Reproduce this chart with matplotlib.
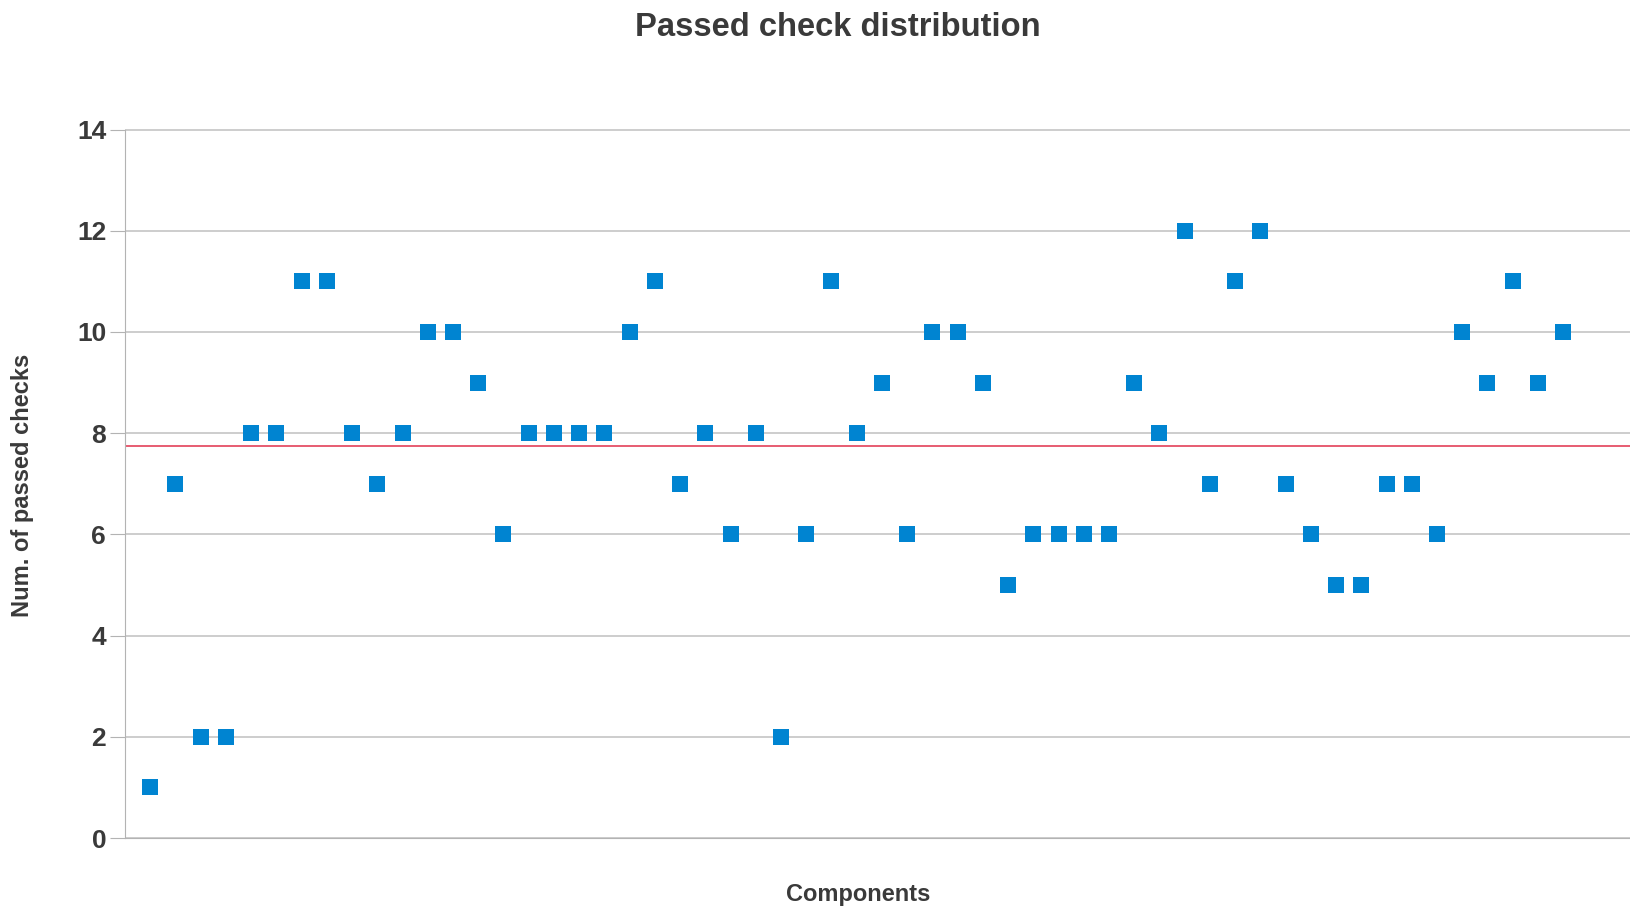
import matplotlib
matplotlib.use("Agg")
import matplotlib.pyplot as plt
import numpy as np

plt.rcParams['font.family'] = ['Liberation Sans', 'DejaVu Sans']

# passed checks per component, in order
passed = [1, 7, 2, 2, 8, 8, 11, 11, 8, 7,
          8, 10, 10, 9, 6, 8, 8, 8, 8, 10,
          11, 7, 8, 6, 8, 2, 6, 11, 8, 9,
          6, 10, 10, 9, 5, 6, 6, 6, 6, 9,
          8, 12, 7, 11, 12, 7, 6, 5, 5, 7,
          7, 6, 10, 9, 11, 9, 10]
components = np.arange(1, len(passed) + 1)
y_ticks = [0, 2, 4, 6, 8, 10, 12, 14]

txt = '#3a3a3a'
fig = plt.figure(figsize=(16.3, 9.08), dpi=100)
ax = fig.add_axes([125/1630, 1 - 838/908, 1 - 125/1630, (838 - 129.5)/908])

ax.scatter(components, passed, marker='s', s=16**2 * 0.56, color='#0084d1',
           linewidths=0, zorder=3)
ax.axhline(np.mean(passed), color='#e0304a', lw=1.1, zorder=2)

ax.set_xlim(0, 59.65)
ax.set_ylim(0, 14)
ax.set_yticks(y_ticks)
ax.set_xticks([])
ax.grid(axis='y', color='#c0c0c0', lw=1.1, zorder=0)
for s in ['top', 'right']:
    ax.spines[s].set_visible(False)
ax.spines['left'].set_color('#b3b3b3')
ax.spines['bottom'].set_color('#b3b3b3')
ax.tick_params(axis='y', length=11, color='#b3b3b3', labelsize=19,
               labelcolor=txt, pad=2.5)
for lab in ax.get_yticklabels():
    lab.set_fontweight('bold')

fig.text(838/1630, 1 - 27/908, 'Passed check distribution', ha='center',
         va='center', fontsize=23.6, fontweight='bold', color=txt)
fig.text(858/1630, 1 - 895/908, 'Components', ha='center', va='center',
         fontsize=17, fontweight='bold', color=txt)
fig.text(23/1630, 1 - 485/908, 'Num. of passed checks', ha='center',
         va='center', rotation=90, fontsize=17, fontweight='bold', color=txt)

fig.savefig('out.png', dpi=100)
